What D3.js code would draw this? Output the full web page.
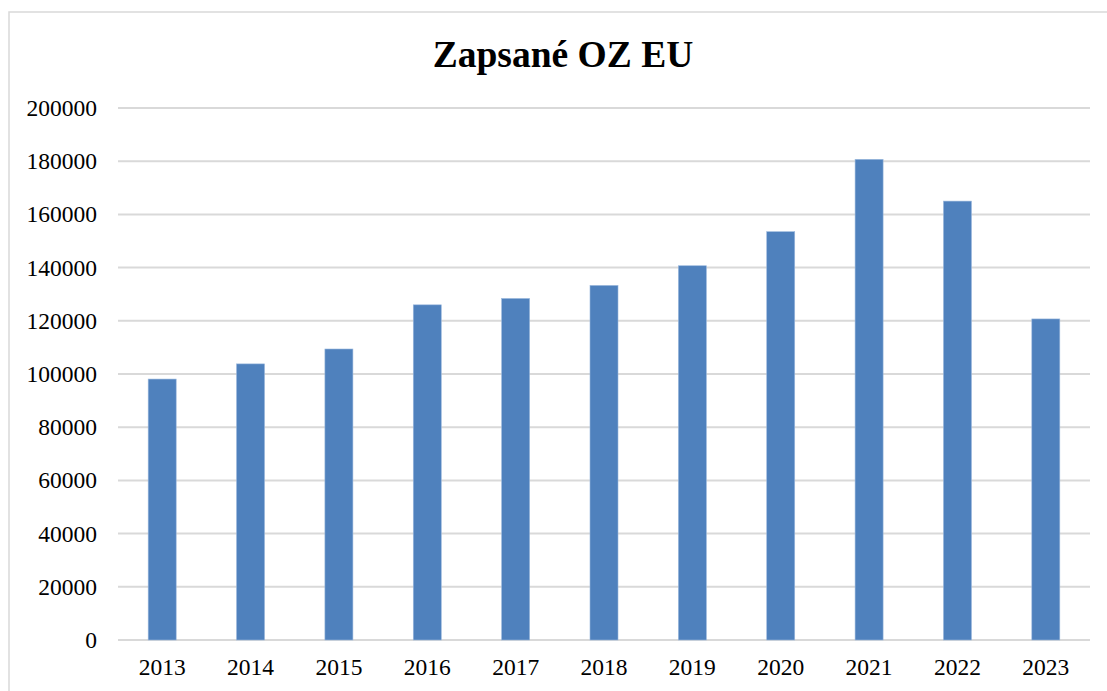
<!DOCTYPE html>
<html>
<head>
<meta charset="utf-8">
<script src="https://cdn.jsdelivr.net/npm/d3@7"></script>
<style>
  body { margin: 0; background: #fff; }
  text { font-family: "Liberation Serif", "Times New Roman", serif; fill: #000; }
</style>
</head>
<body>
<div id="chart"></div>
<script>
// data
const years = ['2013', '2014', '2015', '2016', '2017', '2018', '2019', '2020', '2021', '2022', '2023'];
const values = [98100, 103800, 109400, 126000, 128400, 133300, 140700, 153500, 180700, 165000, 120700];
const yTicks = [0, 20000, 40000, 60000, 80000, 100000, 120000, 140000, 160000, 180000, 200000];

const W = 1107, H = 691;
const margin = { top: 108, right: 17, bottom: 51, left: 118 };
const width = W - margin.left - margin.right;
const height = H - margin.top - margin.bottom;

const svg = d3.select('#chart')
  .append('svg')
  .attr('width', W)
  .attr('height', H);

// outer chart border
svg.append('rect')
  .attr('x', 9).attr('y', 12)
  .attr('width', W + 20).attr('height', H + 20)
  .attr('fill', 'none')
  .attr('stroke', '#d9d9d9')
  .attr('stroke-width', 1.5);

svg.append('text')
  .attr('x', 563)
  .attr('y', 67)
  .attr('text-anchor', 'middle')
  .style('font-size', '37.5px')
  .style('font-weight', 'bold')
  .text('Zapsané OZ EU');

const chart = svg.append('g')
  .attr('transform', `translate(${margin.left},${margin.top})`);

const x = d3.scaleBand()
  .domain(years)
  .range([0, width])
  .paddingInner(0.683)
  .paddingOuter(0.3415);

const y = d3.scaleLinear()
  .domain([0, 200000])
  .range([height, 0]);

// gridlines
chart.append('g')
  .selectAll('line')
  .data(yTicks)
  .join('line')
  .attr('x1', 0)
  .attr('x2', width)
  .attr('y1', d => y(d))
  .attr('y2', d => y(d))
  .attr('stroke', '#d9d9d9')
  .attr('stroke-width', 2);

// y axis labels
const yAxis = d3.axisLeft(y).tickValues(yTicks).tickSize(0).tickPadding(21).tickFormat(d3.format('d'));
chart.append('g')
  .call(yAxis)
  .call(g => g.select('.domain').remove())
  .selectAll('text')
  .style('font-size', '23.5px')
  .style('font-family', '"Liberation Serif", "Times New Roman", serif')
  .attr('fill', '#000');

// bars
chart.append('g')
  .selectAll('rect')
  .data(values)
  .join('rect')
  .attr('x', (d, i) => x(years[i]))
  .attr('y', d => y(d))
  .attr('width', x.bandwidth())
  .attr('height', d => height - y(d))
  .attr('fill', '#4f81bd')
  .attr('stroke', '#9bb8dd')
  .attr('stroke-width', 0.6);

// x axis labels
const xAxis = d3.axisBottom(x).tickSize(0).tickPadding(18);
chart.append('g')
  .attr('transform', `translate(0,${height})`)
  .call(xAxis)
  .call(g => g.select('.domain').remove())
  .selectAll('text')
  .style('font-size', '23.5px')
  .style('font-family', '"Liberation Serif", "Times New Roman", serif')
  .attr('fill', '#000');
</script>
</body>
</html>
